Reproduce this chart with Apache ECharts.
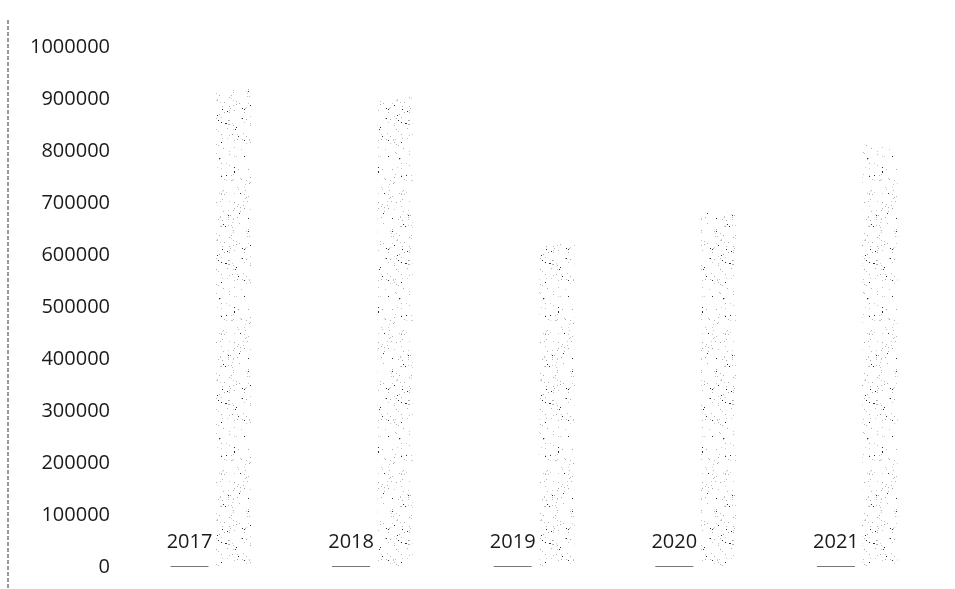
<!DOCTYPE html>
<html>
<head>
  <meta charset="utf-8">
  <title>2017-2021</title>
  <script src="https://cdn.jsdelivr.net/npm/echarts@6/dist/echarts.min.js"></script>
  <style>
    html, body { margin: 0; padding: 0; background: #fff; }
  </style>
</head>
<body>
  <div id="main" style="width: 955px;height:589px;"></div>
  <script type="text/javascript">
    // data
    var years = ['2017', '2018', '2019', '2020', '2021'];
    var yearValues = [2017, 2018, 2019, 2020, 2021];
    var totals = [921000, 904000, 621000, 683000, 812000];
    var yMin = 0, yMax = 1000000, yStep = 100000;

    // stippled fill, like the scanned bars (fixed seed so it is stable)
    function makeDots() {
      var c = document.createElement('canvas');
      c.width = 36; c.height = 140;
      var ctx = c.getContext('2d');
      var seed = 11;
      function rnd() { seed = (seed * 16807) % 2147483647; return seed / 2147483647; }
      for (var i = 0; i < 190; i++) {
        var x = Math.floor(rnd() * 36), y = Math.floor(rnd() * 140);
        var g = rnd() < 0.15 ? 50 : 165 + Math.floor(rnd() * 45);
        ctx.fillStyle = 'rgb(' + g + ',' + g + ',' + g + ')';
        ctx.fillRect(x, y, 1, 1);
      }
      return c;
    }

    var myChart = echarts.init(document.getElementById('main'));
    myChart.setOption({
      animation: false,
      backgroundColor: '#fff',
      grid: { left: 130, right: 17, top: 47, bottom: 22 },
      xAxis: {
        type: 'category',
        data: years,
        axisLine: { show: false },
        axisTick: { show: false },
        axisLabel: { show: false }
      },
      yAxis: {
        type: 'value',
        min: yMin,
        max: yMax,
        interval: yStep,
        axisLine: { show: false },
        axisTick: { show: false },
        splitLine: { show: false },
        axisLabel: {
          margin: 20,
          fontFamily: 'Open Sans',
          fontSize: 20,
          color: '#1a1a1a',
          formatter: function (v) { return String(v); }
        }
      },
      graphic: [{
        type: 'line',
        shape: { x1: 8, y1: 20, x2: 8, y2: 589 },
        style: { stroke: '#333', lineWidth: 1, lineDash: [4, 2] }
      }],
      series: [{
        type: 'bar',
        data: yearValues,
        barWidth: 38,
        barGap: '20%',
        barMinHeight: 1,
        itemStyle: { color: '#777' },
        label: {
          show: true,
          position: 'top',
          distance: 14,
          fontFamily: 'Open Sans',
          fontSize: 20,
          color: '#1a1a1a'
        }
      }, {
        type: 'bar',
        data: totals,
        barWidth: 35,
        itemStyle: { color: { image: makeDots(), repeat: 'repeat' } }
      }]
    });
  </script>
</body>
</html>
